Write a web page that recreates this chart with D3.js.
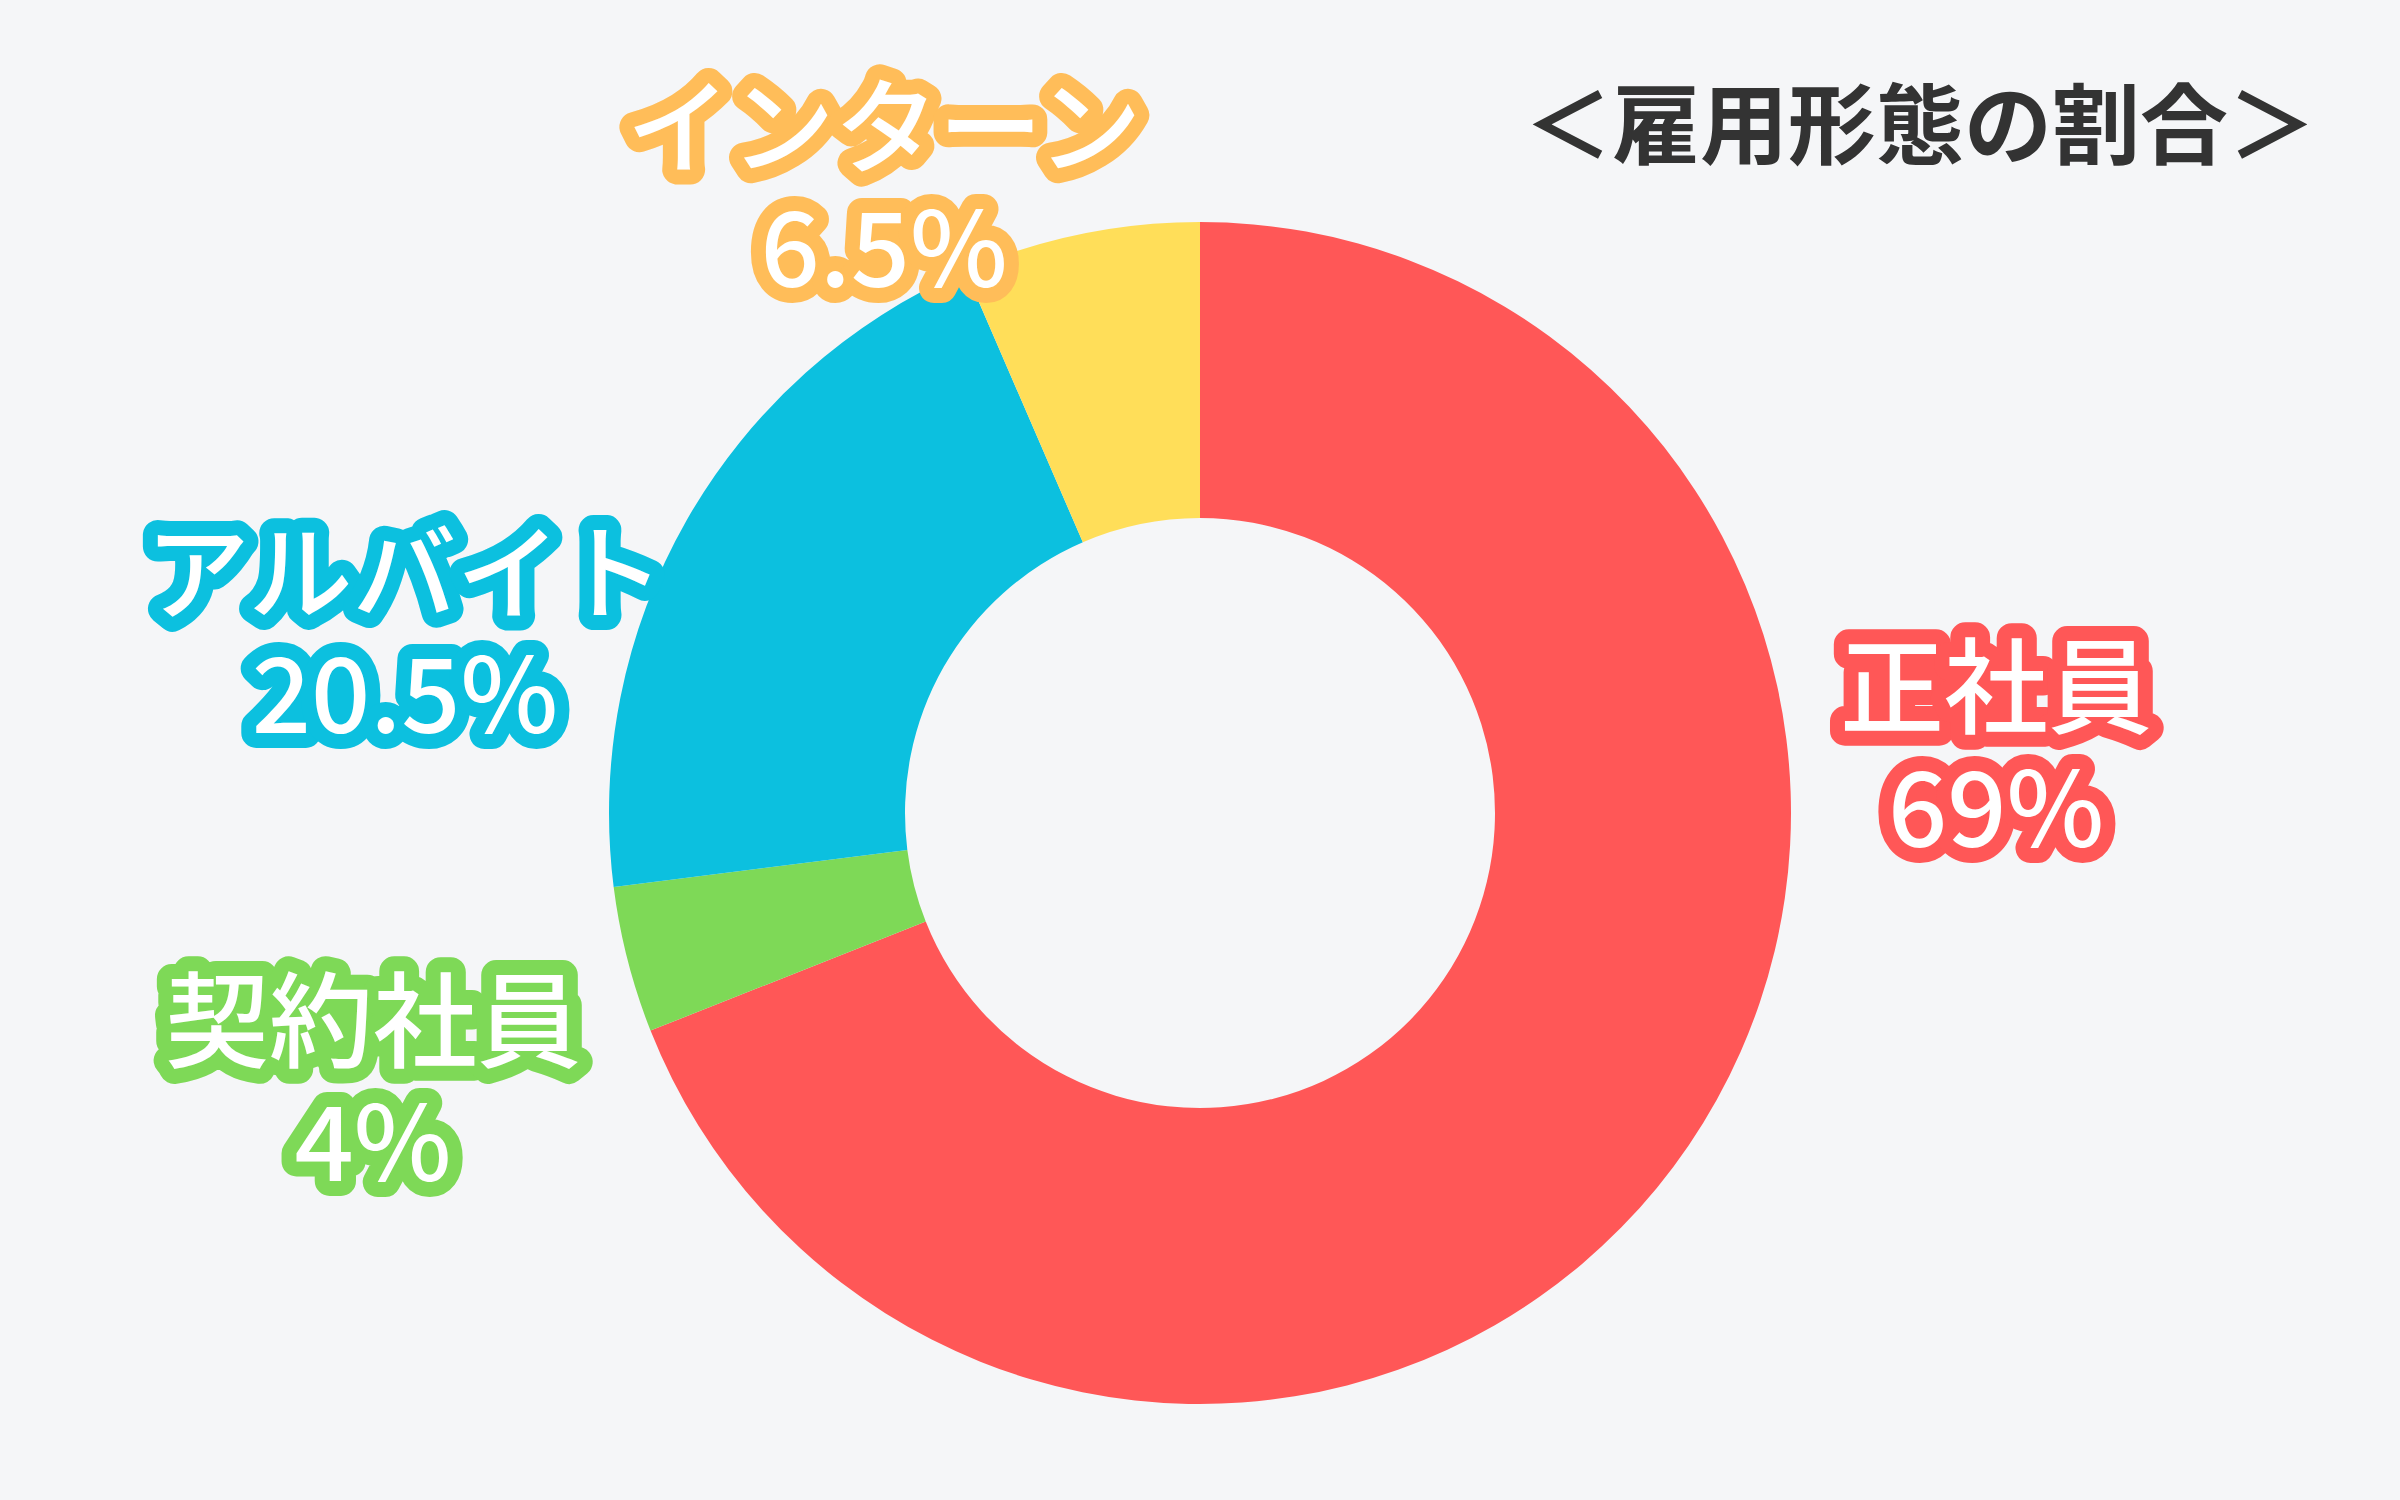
<!DOCTYPE html>
<html><head><meta charset="utf-8">
<script src="https://cdn.jsdelivr.net/npm/d3@7"></script>
<style>
html,body{margin:0;padding:0;background:#F5F6F8;}
svg{display:block;}
text{font-family:"Noto Sans CJK JP","Noto Sans",sans-serif;}
</style></head>
<body>
<svg id="chart" width="2400" height="1500"></svg>
<script>
// ---- data ----
const categories = ["正社員", "契約社員", "アルバイト", "インターン"];
const values = [69, 4, 20.5, 6.5];
const valueLabels = ["69%", "4%", "20.5%", "6.5%"];
const title = "＜雇用形態の割合＞";

// ---- styles / layout ----
const sliceColors = ["#FF5757", "#7ED957", "#0CC0DF", "#FFDE59"];
const outlineColors = ["#FF5757", "#7ED957", "#0CC0DF", "#FFBD59"];
const labelCenters = [[1996, 748], [373, 1082], [405, 634], [884, 188]];
const W = 2400, H = 1500, cx = 1200, cy = 813, rOuter = 591, rInner = 295;
const fs = 104, lineGap = 121;

const svg = d3.select("#chart");
svg.append("rect").attr("width", W).attr("height", H).attr("fill", "#F5F6F8");

const data = categories.map((c, i) => ({cat: c, value: values[i], label: valueLabels[i], i}));
const pie = d3.pie().value(d => d.value).sort(null);
const arc = d3.arc().innerRadius(rInner).outerRadius(rOuter);

const g = svg.append("g").attr("transform", `translate(${cx},${cy})`);
g.selectAll("path").data(pie(data)).join("path")
  .attr("d", arc)
  .attr("fill", d => sliceColors[d.data.i]);

// title
svg.append("text")
  .attr("x", 1920).attr("y", 124 + 0.37 * 88)
  .attr("text-anchor", "middle")
  .attr("font-size", 88).attr("font-weight", 700)
  .attr("fill", "#333333")
  .text(title);

// labels
const lg = svg.append("g");
data.forEach(d => {
  const [x, y] = labelCenters[d.i];
  const lines = [d.cat, d.label];
  lines.forEach((t, k) => {
    lg.append("text")
      .attr("x", x)
      .attr("y", y - lineGap / 2 + k * lineGap + 0.37 * fs)
      .attr("text-anchor", "middle")
      .attr("font-size", fs).attr("font-weight", 500)
      .attr("fill", "#FFFFFF")
      .attr("stroke", outlineColors[d.i])
      .attr("stroke-width", 30)
      .attr("stroke-linejoin", "round")
      .attr("stroke-linecap", "round")
      .attr("paint-order", "stroke")
      .text(t);
  });
});
</script>
</body></html>
